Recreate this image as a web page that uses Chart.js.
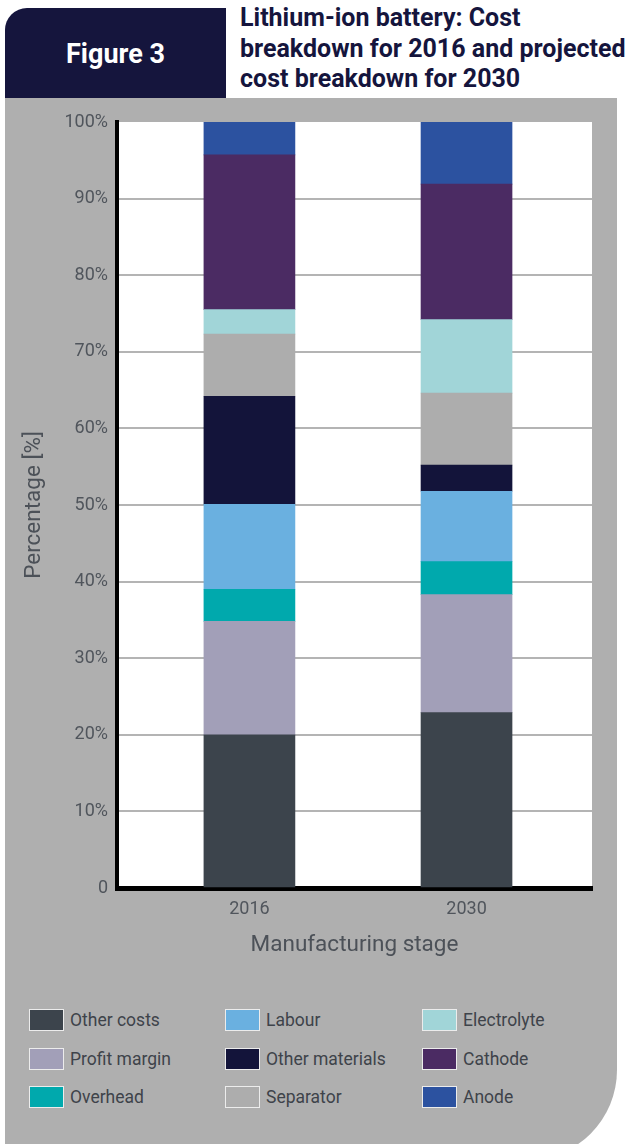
<!DOCTYPE html>
<html>
<head>
<meta charset="utf-8">
<script src="https://cdn.jsdelivr.net/npm/chart.js@4.4.0/dist/chart.umd.min.js"></script>
<style>
  html, body { margin: 0; padding: 0; background: #fff; }
  body { width: 630px; height: 1144px; position: relative; overflow: hidden; font-family: Roboto, "Noto Sans", sans-serif; }
  .tab {
    position: absolute; left: 5px; top: 8px; width: 221px; height: 90px;
    background: #15153d; border-top-left-radius: 22px;
    color: #fff; font-weight: 700; font-size: 27px;
    display: flex; align-items: center; justify-content: center; padding-top: 2px; box-sizing: border-box;
  }
  .title {
    position: absolute; left: 240px; top: 3px; width: 400px;
    color: #15153d; font-weight: 700; font-size: 25px; line-height: 30.5px;
    white-space: nowrap;
  }
  .panel {
    position: absolute; left: 5px; top: 98px; width: 612px; height: 1062px;
    background: #afafaf; border-bottom-right-radius: 90px;
  }
  .chart-box { position: absolute; left: 5px; top: 98px; width: 612px; height: 880px; }
  .legend {
    position: absolute; left: 29px; top: 1009px;
    display: grid; grid-template-columns: 196px 197px 190px; grid-template-rows: repeat(3, 38.5px);
    grid-auto-flow: column;
  }
  .legend-item { display: flex; align-items: flex-start; color: #3e434a; font-size: 17.5px; line-height: 22px; }
  .swatch { width: 33px; height: 20px; border: 1.5px solid #ececec; margin-right: 6px; }
</style>
</head>
<body>
<div class="tab">Figure 3</div>
<div class="title">Lithium-ion battery: Cost<br>breakdown for 2016 and projected<br>cost breakdown for 2030</div>
<div class="panel"></div>
<div class="chart-box"><canvas id="costChart"></canvas></div>
<div class="legend" id="legend"></div>

<script>
// percentage share of each cost item, bottom of the stack first
const years = ["2016", "2030"];
const otherCosts = [20.0, 22.9];
const profitMargin = [14.8, 15.4];
const overhead = [4.2, 4.3];
const labour = [11.1, 9.2];
const otherMaterials = [14.1, 3.4];
const separator = [8.1, 9.4];
const electrolyte = [3.2, 9.6];
const cathode = [20.2, 17.7];
const anode = [4.3, 8.1];

const yTickValues = [0, 10, 20, 30, 40, 50, 60, 70, 80, 90, 100];
const yTickLabels = ["0", "10%", "20%", "30%", "40%", "50%", "60%", "70%", "80%", "90%", "100%"];

const series = [
    { label: "Other costs", values: otherCosts, color: "#3c444c" },
    { label: "Profit margin", values: profitMargin, color: "#a29fb8" },
    { label: "Overhead", values: overhead, color: "#00a9ad" },
    { label: "Labour", values: labour, color: "#6ab0e0" },
    { label: "Other materials", values: otherMaterials, color: "#13143a" },
    { label: "Separator", values: separator, color: "#adadad" },
    { label: "Electrolyte", values: electrolyte, color: "#a1d5d8" },
    { label: "Cathode", values: cathode, color: "#4b2b63" },
    { label: "Anode", values: anode, color: "#2c52a0" },
];

// white plot area on the grey panel
const plotBg = {
    id: "plotBg",
    beforeDraw(chart) {
        const { ctx, chartArea: a } = chart;
        ctx.save();
        ctx.fillStyle = "#ffffff";
        ctx.fillRect(a.left, a.top, a.right - a.left, a.bottom - a.top);
        ctx.restore();
    },
};

const ctx = document.getElementById("costChart").getContext("2d");
const costChart = new Chart(ctx, {
    type: "bar",
    data: {
        datasets: series.map((s) => ({
            label: s.label,
            data: s.values.map((v, i) => ({ x: i, y: v })),
            backgroundColor: s.color,
            borderWidth: 0,
            barThickness: 91,
        })),
    },
    options: {
        responsive: true,
        maintainAspectRatio: false,
        animation: false,
        layout: { padding: { top: 24, right: 25, left: 0, bottom: 19 } },
        plugins: { legend: { display: false }, tooltip: { enabled: false } },
        scales: {
            x: {
                type: "linear",
                stacked: true,
                offset: false,
                bounds: "data",
                min: -0.61,
                max: 1.578,
                afterBuildTicks: (scale) => {
                    scale.ticks = years.map((_, i) => ({ value: i }));
                },
                afterFit: (scale) => {
                    scale.height = 71;
                },
                grid: { display: false, drawTicks: false, offset: false },
                border: { color: "#000", width: 5 },
                ticks: {
                    padding: 11,
                    color: "#50555c",
                    font: { family: "Roboto", size: 18 },
                    callback: (v) => years[v],
                },
                title: {
                    display: true,
                    text: "Manufacturing stage",
                    color: "#4c5158",
                    font: { family: "Roboto", size: 22.5 },
                    padding: { top: 0, bottom: 0 },
                },
            },
            y: {
                stacked: true,
                min: 0,
                max: 100,
                afterBuildTicks: (scale) => {
                    scale.ticks = yTickValues.map((v) => ({ value: v }));
                },
                afterFit: (scale) => {
                    scale.width = 112;
                },
                grid: {
                    drawTicks: false,
                    lineWidth: 2,
                    color: (c) => (c.tick && c.tick.value === 100 ? "rgba(0,0,0,0)" : "#b4b4b4"),
                },
                border: { color: "#000", width: 4 },
                ticks: {
                    padding: 9,
                    color: "#50555c",
                    font: { family: "Roboto", size: 18 },
                    callback: (v) => yTickLabels[yTickValues.indexOf(v)],
                },
                title: {
                    display: true,
                    text: "Percentage [%]",
                    color: "#4c5158",
                    font: { family: "Roboto", size: 22.5 },
                    padding: { top: 16, bottom: 0 },
                },
            },
        },
    },
    plugins: [plotBg],
});

// legend in three columns, filled top to bottom
const legend = document.getElementById("legend");
costChart.data.datasets.forEach((ds) => {
    const item = document.createElement("div");
    item.className = "legend-item";
    const sw = document.createElement("span");
    sw.className = "swatch";
    sw.style.background = ds.backgroundColor;
    const txt = document.createElement("span");
    txt.textContent = ds.label;
    item.appendChild(sw);
    item.appendChild(txt);
    legend.appendChild(item);
});
</script>
</body>
</html>
